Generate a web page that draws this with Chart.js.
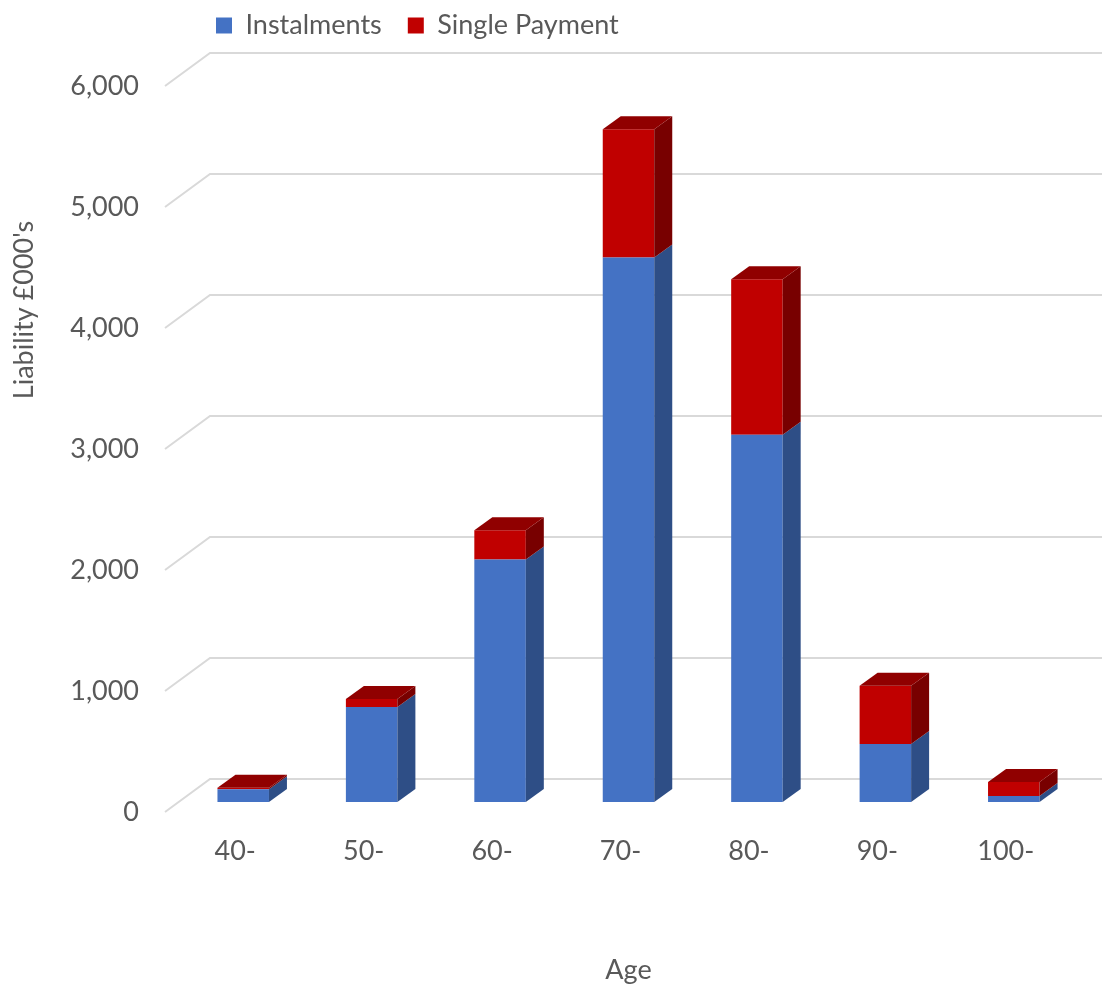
<!DOCTYPE html>
<html>
<head>
<meta charset="utf-8">
<script src="https://cdn.jsdelivr.net/npm/chart.js@4.4.1/dist/chart.umd.min.js"></script>
<style>
  html, body { margin: 0; padding: 0; background: #fff; }
  #wrap { width: 1102px; height: 987px; }
</style>
</head>
<body>
<div id="wrap"><canvas id="chart" width="1102" height="987"></canvas></div>
<script>
const ages = ['40-', '50-', '60-', '70-', '80-', '90-', '100-'];
const instalments = [105, 785, 2005, 4500, 3035, 480, 50];
const singlePayment = [12, 66, 240, 1060, 1285, 480, 116];
const yTicks = [0, 1000, 2000, 3000, 4000, 5000, 6000];

const TEXT = '#595959';
const FONT = 'Lato, "Open Sans", sans-serif';
const FS = 27;

// fake 3d: side/top depth of the bars, and where the back wall sits
const barDepth = { dx: 18, dy: -13 };
const wall = { frontX: -14, frontY: 10, backX: 31, backY: -23 };

const wallGrid = {
  id: 'wallGrid',
  beforeDatasetsDraw(chart) {
    const { ctx, chartArea } = chart;
    const ys = chart.scales.y;
    ctx.save();
    ctx.strokeStyle = '#d9d9d9';
    ctx.lineWidth = 2;
    yTicks.forEach(v => {
      const p = ys.getPixelForValue(v);
      ctx.beginPath();
      ctx.moveTo(chartArea.left + wall.frontX, p + wall.frontY);
      ctx.lineTo(chartArea.left + wall.backX, p + wall.backY);
      ctx.lineTo(chart.width, p + wall.backY);
      ctx.stroke();
    });
    ctx.restore();
  }
};

const barFaces = {
  id: 'barFaces',
  afterDatasetsDraw(chart) {
    const { ctx } = chart;
    const last = chart.data.datasets.length - 1;
    ctx.save();
    chart.data.datasets.forEach((ds, di) => {
      chart.getDatasetMeta(di).data.forEach(bar => {
        const { x, y, base, width } = bar.getProps(['x', 'y', 'base', 'width'], true);
        const l = x - width / 2, r = x + width / 2;
        const { dx, dy } = barDepth;
        ctx.fillStyle = ds.sideColor;
        ctx.beginPath();
        ctx.moveTo(r, base); ctx.lineTo(r, y); ctx.lineTo(r + dx, y + dy); ctx.lineTo(r + dx, base + dy);
        ctx.closePath(); ctx.fill();
        if (di === last) {
          ctx.fillStyle = ds.topColor;
          ctx.beginPath();
          ctx.moveTo(l, y); ctx.lineTo(r, y); ctx.lineTo(r + dx, y + dy); ctx.lineTo(l + dx, y + dy);
          ctx.closePath(); ctx.fill();
        }
      });
    });
    ctx.restore();
  }
};

// legend sits left of centre in the original
const legendPlace = {
  id: 'legendPlace',
  afterLayout(chart) {
    const lg = chart.legend;
    if (!lg) return;
    const pad = lg.options.labels.padding;
    const h = lg.bottom - lg.top;
    lg.left = 216 - pad;
    lg.top = 12 - pad;
    lg.bottom = lg.top + h;
  }
};

const yTitle = {
  id: 'yTitle',
  afterDraw(chart) {
    const { ctx } = chart;
    ctx.save();
    ctx.translate(24, 310);
    ctx.rotate(-Math.PI / 2);
    ctx.font = FS + 'px ' + FONT;
    ctx.fillStyle = TEXT;
    ctx.textAlign = 'center';
    ctx.textBaseline = 'middle';
    ctx.fillText("Liability £000's", 0, 0);
    ctx.restore();
  }
};

new Chart(document.getElementById('chart').getContext('2d'), {
  type: 'bar',
  data: {
    labels: ages,
    datasets: [
      { label: 'Instalments', data: instalments, backgroundColor: '#4472c4', sideColor: '#2e4e86', topColor: '#3a62a8' },
      { label: 'Single Payment', data: singlePayment, backgroundColor: '#c00000', sideColor: '#780000', topColor: '#900000' }
    ]
  },
  options: {
    responsive: false,
    animation: false,
    devicePixelRatio: 1,
    layout: { padding: { left: 69, right: 24, top: 13, bottom: 0 } },
    datasets: { bar: { categoryPercentage: 1, barPercentage: 0.401 } },
    plugins: {
      legend: {
        position: 'top',
        align: 'start',
        labels: { boxWidth: 16, boxHeight: 16, padding: 26, color: TEXT, font: { family: FONT, size: FS } }
      },
      tooltip: { enabled: false }
    },
    scales: {
      x: {
        stacked: true,
        grid: { display: false, drawTicks: false },
        border: { display: false },
        ticks: { color: TEXT, font: { family: FONT, size: FS }, padding: 33, labelOffset: -8 },
        title: { display: true, text: 'Age', color: TEXT, font: { family: FONT, size: FS }, padding: { top: 0, bottom: 1 } },
        afterFit: s => { s.height = 185; }
      },
      y: {
        stacked: true,
        min: 0,
        max: 6000,
        grid: { display: false, drawTicks: false },
        border: { display: false },
        afterBuildTicks: s => { s.ticks = yTicks.map(v => ({ value: v })); },
        ticks: {
          color: TEXT, font: { family: FONT, size: FS }, padding: 40, labelOffset: 10,
          callback: v => v.toLocaleString('en-US')
        },
        afterFit: s => { s.width = 110; }
      }
    }
  },
  plugins: [wallGrid, barFaces, legendPlace, yTitle]
});
</script>
</body>
</html>
